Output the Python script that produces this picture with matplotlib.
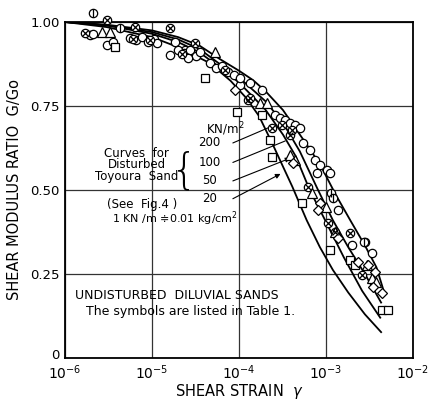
import numpy as np
import matplotlib
matplotlib.use('Agg')
import matplotlib.pyplot as plt
import matplotlib.transforms as mtransforms
from matplotlib.ticker import FixedLocator, FixedFormatter, NullLocator

# ---------------- data ----------------
curve_labels = ['200', '100', '50', '20']

c200_strain = [1e-6, 3e-6, 1e-5, 2e-5, 3.5e-5, 6e-5, 1e-4, 1.45e-4, 2e-4, 3.2e-4, 5e-4, 7e-4, 9.2e-4, 1.3e-3, 1.9e-3, 2.8e-3, 3.8e-3, 4.6e-3]
c200_G      = [1.00, 0.992, 0.975, 0.955, 0.93, 0.89, 0.855, 0.827, 0.795, 0.738, 0.665, 0.61, 0.56, 0.485, 0.41, 0.335, 0.27, 0.20]

c100_strain = [1e-6, 3e-6, 1e-5, 2e-5, 3.5e-5, 6e-5, 1e-4, 2e-4, 3.2e-4, 5e-4, 8.1e-4, 1.2e-3, 1.8e-3, 2.8e-3, 4.3e-3]
c100_G      = [1.00, 0.99, 0.97, 0.948, 0.92, 0.875, 0.835, 0.765, 0.70, 0.615, 0.50, 0.41, 0.33, 0.25, 0.165]

c50_strain = [1e-6, 3e-6, 1e-5, 2e-5, 3.5e-5, 6e-5, 1e-4, 2e-4, 3.2e-4, 4.5e-4, 6.5e-4, 1e-3, 1.6e-3, 2.6e-3, 4.2e-3]
c50_G      = [1.00, 0.99, 0.965, 0.94, 0.91, 0.865, 0.82, 0.74, 0.665, 0.60, 0.50, 0.405, 0.30, 0.20, 0.12]

c20_strain = [1e-6, 3e-6, 1e-5, 2e-5, 4.6e-5, 8e-5, 1.2e-4, 1.7e-4, 2.4e-4, 3.2e-4, 4.1e-4, 6e-4, 8.5e-4, 1.2e-3, 1.8e-3, 2.8e-3, 4.3e-3]
c20_G      = [1.00, 0.985, 0.955, 0.925, 0.878, 0.825, 0.775, 0.72, 0.64, 0.57, 0.51, 0.41, 0.33, 0.262, 0.195, 0.13, 0.077]

# open circles
circ_strain = [1.94e-6, 2.10e-6, 3.04e-6, 3.6e-6, 1.84e-5, 1.61e-5, 2.39e-5, 1.03e-4, 1.34e-4, 1.85e-4,
               5.5e-4, 6.55e-4, 7.48e-4, 8.53e-4, 1.04e-3, 7.9e-4, 1.11e-3, 1.38e-3, 2.0e-3, 2.81e-3, 3.4e-3,
               5.58e-6, 6.5e-6, 7.7e-6, 9.0e-6, 1.05e-5, 1.14e-5, 1.98e-5, 2.33e-5, 2.73e-5, 3.2e-5, 3.56e-5, 2.6e-5,
               4.64e-5, 5.4e-5, 6.3e-5, 7.5e-5, 8.8e-5, 1.03e-4, 2.59e-4, 2.96e-4, 3.38e-4, 3.86e-4, 4.4e-4, 5.0e-4]
circ_G = [0.961, 0.964, 0.932, 0.940, 0.940, 0.902, 0.917, 0.8125, 0.818, 0.798,
          0.640, 0.619, 0.589, 0.574, 0.560, 0.551, 0.551, 0.440, 0.336, 0.345, 0.3125,
          0.952, 0.946, 0.955, 0.940, 0.949, 0.9375, 0.917, 0.908, 0.917, 0.899, 0.911, 0.893,
          0.878, 0.863, 0.869, 0.851, 0.842, 0.833, 0.723, 0.714, 0.708, 0.699, 0.693, 0.685]

# circles with a cross
cross_strain = [1.70e-6, 3.04e-6, 6.38e-6, 1.61e-5, 3.12e-5, 9.5e-6, 1.27e-4, 1.34e-4, 2.4e-4, 3.86e-4,
                6.2e-4, 1.05e-3, 1.27e-3, 1.89e-3, 2.6e-3, 6.0e-6, 2.2e-5, 6.9e-5, 3.1e-4, 4.1e-4]
cross_G = [0.967, 1.006, 0.985, 0.982, 0.9375, 0.946, 0.768, 0.774, 0.685, 0.664,
           0.509, 0.402, 0.375, 0.372, 0.247, 0.948, 0.905, 0.858, 0.693, 0.679]

# squares
sq_strain = [3.76e-6, 4.06e-5, 9.5e-5, 1.85e-4, 2.27e-4, 2.4e-4, 5.3e-4, 1.11e-3, 1.89e-3, 2.15e-3, 4.4e-3, 5.1e-3]
sq_G = [0.926, 0.833, 0.732, 0.723, 0.649, 0.598, 0.461, 0.321, 0.292, 0.277, 0.143, 0.143]

# triangles
tri_strain = [2.66e-6, 3.29e-6, 5.3e-5, 1.74e-4, 2.1e-4, 3.86e-4, 4.4e-4, 6.9e-4, 1.0e-3, 1.27e-3, 2.95e-3, 3.4e-3, 3.8e-3]
tri_G = [0.970, 0.970, 0.911, 0.759, 0.759, 0.604, 0.589, 0.491, 0.449, 0.375, 0.277, 0.238, 0.226]

# diamonds
dia_strain = [9.0e-5, 4.2e-4, 8.5e-4, 8.1e-4, 1.38e-3, 2.35e-3, 3.0e-3, 3.66e-3, 3.5e-3, 4.4e-3]
dia_G = [0.798, 0.580, 0.461, 0.440, 0.357, 0.286, 0.277, 0.256, 0.211, 0.193]

# circles with vertical bar
bar_strain = [4.29e-6, 2.1e-6, 1.14e-3, 1.2e-3, 2.7e-3]
bar_G = [0.982, 1.027, 0.491, 0.476, 0.345]

y_ticks = [0, 0.25, 0.5, 0.75, 1.0]
y_ticklabels = ['0', '0.25', '0.50', '0.75', '1.00']
x_ticks = [1e-6, 1e-5, 1e-4, 1e-3, 1e-2]
x_ticklabels = [r'$\mathdefault{10^{-6}}$', r'$\mathdefault{10^{-5}}$', r'$\mathdefault{10^{-4}}$',
                r'$\mathdefault{10^{-3}}$', r'$\mathdefault{10^{-2}}$']

# ---------------- figure ----------------
plt.rcParams['font.family'] = ['DejaVu Sans']
fig = plt.figure(figsize=(4.39, 4.01), dpi=100)
ax = fig.add_axes([65/439, 1-358/401, (413-65)/439, (358-22)/401])
ax.set_xscale('log')
ax.set_xlim(1e-6, 1e-2)
ax.set_ylim(0, 1.0)

for s in ax.spines.values():
    s.set_linewidth(1.3)
    s.set_color('black')

ax.xaxis.set_major_locator(FixedLocator(x_ticks))
ax.xaxis.set_major_formatter(FixedFormatter(x_ticklabels))
ax.xaxis.set_minor_locator(NullLocator())
ax.yaxis.set_major_locator(FixedLocator(y_ticks))
ax.yaxis.set_major_formatter(FixedFormatter(y_ticklabels))
ax.tick_params(axis='y', length=0, labelsize=9.5, pad=4)
ax.tick_params(axis='x', length=0, labelsize=10, pad=4)
ax.grid(True, color='#333333', linewidth=0.9)
ax.set_axisbelow(True)

# nudge the "0" label up a little, as in the original
zero_label = ax.yaxis.get_majorticklabels()[0]
zero_label.set_transform(zero_label.get_transform() +
                         mtransforms.ScaledTranslation(0, 3/72, fig.dpi_scale_trans))

for xs, ys in [(c200_strain, c200_G), (c100_strain, c100_G), (c50_strain, c50_G), (c20_strain, c20_G)]:
    ax.plot(xs, ys, color='black', lw=1.3, zorder=3)

mk = dict(linestyle='none', markerfacecolor='white', markeredgecolor='black', markeredgewidth=0.9, zorder=4, clip_on=False)
ax.plot(circ_strain, circ_G, marker='o', markersize=6, **mk)
ax.plot(cross_strain, cross_G, marker='o', markersize=6, **mk)
ax.plot(cross_strain, cross_G, linestyle='none', marker='x', markersize=4.5, color='black', mew=0.9, zorder=5, clip_on=False)
ax.plot(sq_strain, sq_G, marker='s', markersize=6, **mk)
ax.plot(tri_strain, tri_G, marker='^', markersize=6.5, **mk)
ax.plot(dia_strain, dia_G, marker='D', markersize=5.5, **mk)
ax.plot(bar_strain, bar_G, marker='o', markersize=6, **mk)
ax.plot(bar_strain, bar_G, linestyle='none', marker='|', markersize=6, color='black', mew=0.9, zorder=5, clip_on=False)

ax.set_xlabel('SHEAR STRAIN  $\\gamma$', fontsize=10.5, labelpad=0)
ax.set_ylabel('SHEAR MODULUS RATIO  G/Go', fontsize=10.5, labelpad=6)

# annotation text
fs = 8.5
ax.text(6.7e-6, 0.610, 'Curves  for', fontsize=fs, ha='center', va='center')
ax.text(6.7e-6, 0.575, 'Disturbed', fontsize=fs, ha='center', va='center')
ax.text(6.7e-6, 0.540, 'Toyoura  Sand', fontsize=fs, ha='center', va='center')
ax.text(2.35e-5, 0.557, '{', fontsize=30, ha='center', va='center', fontweight='light')
ax.text(7.0e-5, 0.680, 'KN/m$^2$', fontsize=fs, ha='center', va='center')
ax.text(4.6e-5, 0.640, '200', fontsize=fs, ha='center', va='center')
ax.text(4.6e-5, 0.582, '100', fontsize=fs, ha='center', va='center')
ax.text(4.6e-5, 0.527, '50', fontsize=fs, ha='center', va='center')
ax.text(4.6e-5, 0.474, '20', fontsize=fs, ha='center', va='center')
ax.text(3.0e-6, 0.457, '(See  Fig.4 )', fontsize=fs, ha='left', va='center')
ax.text(3.5e-6, 0.414, '1 KN /m ≑0.01 kg/cm$^2$', fontsize=8, ha='left', va='center')
ax.text(1.3e-6, 0.187, 'UNDISTURBED  DILUVIAL SANDS', fontsize=9, ha='left', va='center')
ax.text(1.75e-6, 0.137, 'The symbols are listed in Table 1.', fontsize=9, ha='left', va='center')

leaders = [((8.5e-5, 0.640), (2.4e-4, 0.690), False),
           ((8.5e-5, 0.582), (3.4e-4, 0.646), False),
           ((8.5e-5, 0.527), (3.9e-4, 0.595), True),
           ((8.5e-5, 0.474), (3.0e-4, 0.548), True)]
for (x0, y0), (x1, y1), arrow in leaders:
    ax.annotate('', xy=(x1, y1), xytext=(x0, y0),
                arrowprops=dict(arrowstyle='-|>' if arrow else '-', color='black', lw=0.8,
                                mutation_scale=7, shrinkA=0, shrinkB=0), zorder=3)

fig.savefig('out.png', dpi=100)
